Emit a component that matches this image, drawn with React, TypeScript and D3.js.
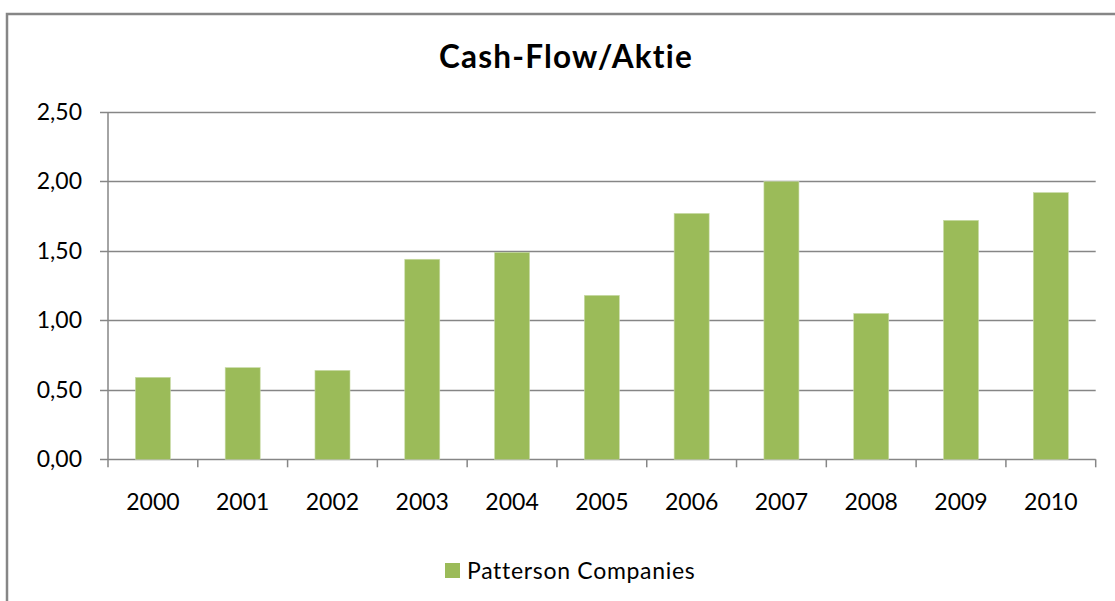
import React from "react";
import * as d3 from "d3";

const categories = ["2000", "2001", "2002", "2003", "2004", "2005", "2006", "2007", "2008", "2009", "2010"];
const values = [0.59, 0.66, 0.64, 1.44, 1.49, 1.18, 1.77, 2.0, 1.05, 1.72, 1.92];
const yTicks = [0, 0.5, 1, 1.5, 2, 2.5];
const seriesName = "Patterson Companies";
const title = "Cash-Flow/Aktie";

const W = 1115;
const H = 601;
const FONT = "Lato, Carlito, Calibri, 'Open Sans', sans-serif";
const GRID = "#868686";
const BAR = "#9BBB59";

export default function App() {
  const left = 108;
  const right = 1095.7;
  const top = 112;
  const bottom = 459.3;
  const x = d3.scaleBand<string>().domain(categories).range([left, right]).paddingInner(0.61).paddingOuter(0.305);
  const y = d3.scaleLinear().domain([0, 2.5]).range([bottom, top]);
  const fmt = (v: number) => v.toFixed(2).replace(".", ",");
  const step = (right - left) / categories.length;

  return (
    <svg width={W} height={H} style={{ position: "absolute", left: 0, top: 0, background: "#fff" }}>
      <rect x={0} y={0} width={W} height={H} fill="#fff" />
      <rect x={7} y={14} width={W + 20} height={H + 20} fill="none" stroke={GRID} strokeWidth={2.5} />
      <text x={566} y={68} textAnchor="middle" fontFamily={FONT} fontWeight="bold" fontSize={31.5} letterSpacing={1.2} fill="#000">
        {title}
      </text>
      {yTicks.map((t) => (
        <g key={t}>
          <line x1={100} x2={right} y1={Math.round(y(t)) + 0.5} y2={Math.round(y(t)) + 0.5} stroke={GRID} strokeWidth={1.5} />
          <text x={82} y={y(t) + 8} textAnchor="end" fontFamily={FONT} fontSize={23} fill="#000">
            {fmt(t)}
          </text>
        </g>
      ))}
      <line x1={left} x2={left} y1={top} y2={bottom} stroke={GRID} strokeWidth={1.5} />
      {categories.map((c, i) => (
        <line key={"t" + c} x1={left + i * step} x2={left + i * step} y1={bottom} y2={bottom + 8} stroke={GRID} strokeWidth={1.5} />
      ))}
      <line x1={right} x2={right} y1={bottom} y2={bottom + 8} stroke={GRID} strokeWidth={1.5} />
      {categories.map((c, i) => (
        <rect
          key={c}
          x={x(c)!}
          y={y(values[i])}
          width={x.bandwidth()}
          height={bottom - y(values[i])}
          fill={BAR}
          stroke="#c9dba8"
          strokeWidth={0.6}
        />
      ))}
      {categories.map((c) => (
        <text key={"l" + c} x={x(c)! + x.bandwidth() / 2} y={510} textAnchor="middle" fontFamily={FONT} fontSize={23} fill="#000">
          {c}
        </text>
      ))}
      <rect x={445} y={563} width={15} height={15} fill={BAR} />
      <text x={467} y={579} fontFamily={FONT} fontSize={23} letterSpacing={0.7} fill="#000">
        {seriesName}
      </text>
    </svg>
  );
}
